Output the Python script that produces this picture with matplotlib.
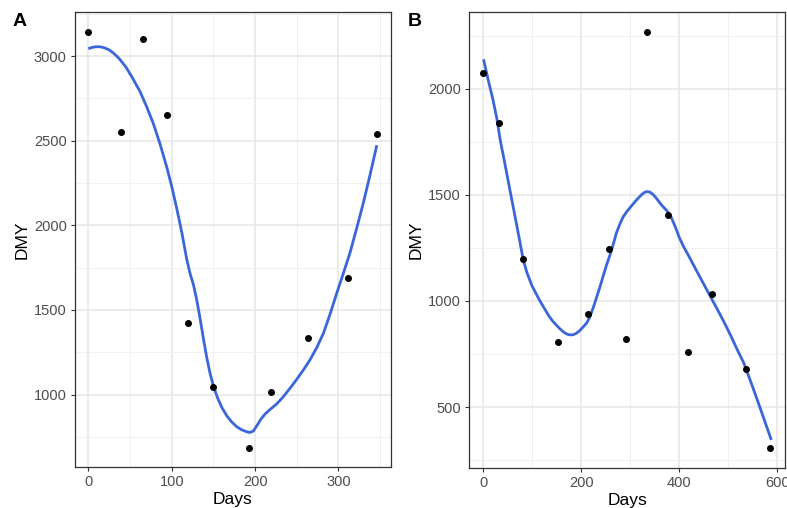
import matplotlib
matplotlib.use("Agg")
import matplotlib.pyplot as plt
from matplotlib.ticker import MultipleLocator

plt.rcParams['font.family'] = ['Liberation Sans', 'DejaVu Sans']

# Panel A data
a_days = [0, 39, 66, 94, 120, 150, 193, 219, 264, 311, 346]
a_dmy = [3142, 2550, 3100, 2649, 1423, 1047, 686, 1018, 1333, 1689, 2540]
# Panel A smoother
a_fit_days = [0, 4, 8, 12, 16, 20, 25, 30, 37, 45, 53, 62, 70, 78, 86, 94, 100, 106, 112, 118,
              122, 126, 130, 134, 138, 142, 146, 150, 155, 160, 166, 172, 178, 184, 190, 194,
              198, 202, 207, 212, 218, 226, 234, 242, 250, 258, 266, 274, 282, 290, 298,
              306, 314, 322, 330, 338, 346]
a_fit_dmy = [3043, 3050, 3054, 3055, 3053, 3047, 3036, 3018, 2985, 2935, 2870, 2790, 2700, 2600,
             2480, 2345, 2230, 2100, 1960, 1800, 1715, 1650, 1560, 1450, 1330, 1220, 1125, 1050,
             980, 925, 875, 838, 810, 792, 780, 776, 785, 815, 855, 885, 912, 945, 988, 1038,
             1090, 1146, 1206, 1278, 1362, 1476, 1600, 1718, 1840, 1985, 2135, 2300, 2473]

# Panel B data
b_days = [0, 33, 81, 152, 215, 257, 291, 334, 378, 418, 467, 537, 586]
b_dmy = [2075, 1840, 1198, 805, 937, 1246, 821, 2267, 1403, 758, 1034, 678, 309]
# Panel B smoother
b_fit_days = [1, 10, 20, 28, 35, 45, 55, 65, 75, 82, 90, 100, 108, 116, 125, 134, 142, 150, 158,
              165, 171, 177, 184, 190, 197, 204, 211, 218, 225, 232, 239, 246, 252, 259, 266,
              272, 279, 286, 293, 300, 308, 316, 324, 330, 334, 340, 346, 352, 358, 364, 370,
              375, 383, 392, 400, 409, 420, 436, 450, 464, 478, 491, 505, 518, 532, 546, 560,
              574, 588]
b_fit_dmy = [2138, 2045, 1950, 1860, 1758, 1640, 1520, 1400, 1280, 1193, 1130, 1070, 1035, 1000,
             965, 930, 905, 885, 866, 852, 844, 840, 841, 847, 860, 877, 895, 925, 970, 1020,
             1070, 1125, 1170, 1217, 1270, 1320, 1362, 1397, 1420, 1440, 1462, 1483, 1502, 1512,
             1515, 1513, 1503, 1488, 1470, 1452, 1437, 1425, 1398, 1350, 1300, 1256, 1210, 1140,
             1080, 1020, 960, 903, 838, 773, 707, 620, 530, 438, 345]

a_xticks = [0, 100, 200, 300]
a_yticks = [1000, 1500, 2000, 2500, 3000]
b_xticks = [0, 200, 400, 600]
b_yticks = [500, 1000, 1500, 2000]

fig = plt.figure(figsize=(7.87, 5.08), dpi=100)
axA = fig.add_axes([0.0953, 0.0807, 0.4015, 0.8957])
axB = fig.add_axes([0.596, 0.0787, 0.4015, 0.8977])

def style(ax, xt, yt, xminor, yminor, xlim, ylim):
    ax.set_xlim(*xlim)
    ax.set_ylim(*ylim)
    ax.set_xticks(xt)
    ax.set_yticks(yt)
    ax.xaxis.set_minor_locator(MultipleLocator(xminor))
    ax.yaxis.set_minor_locator(MultipleLocator(yminor))
    ax.grid(True, which='major', color='#E6E6E6', linewidth=1.1, zorder=0)
    ax.grid(True, which='minor', color='#F0F0F0', linewidth=0.7, zorder=0)
    ax.set_axisbelow(True)
    ax.tick_params(which='minor', length=0)
    ax.tick_params(which='major', length=3, color='#333333', width=0.8,
                   labelsize=10.5, labelcolor='#4D4D4D', pad=3)
    for s in ax.spines.values():
        s.set_color('#333333')
        s.set_linewidth(0.9)
    ax.set_xlabel('Days', fontsize=12.5, color='black', labelpad=2)
    ax.set_ylabel('DMY', fontsize=12.5, color='black', labelpad=3)

style(axA, a_xticks, a_yticks, 50, 250, (-16, 363), (572, 3260))
axA.plot(a_fit_days, a_fit_dmy, color='#3A66DA', linewidth=2, zorder=2, solid_capstyle='butt')
axA.scatter(a_days, a_dmy, s=16, color='black', zorder=3)

style(axB, b_xticks, b_yticks, 100, 250, (-28.6, 616), (213, 2361))
axB.plot(b_fit_days, b_fit_dmy, color='#3A66DA', linewidth=2, zorder=2, solid_capstyle='butt')
axB.scatter(b_days, b_dmy, s=16, color='black', zorder=3)

fig.text(0.016, 0.958, 'A', fontsize=14, fontweight='bold', va='center', ha='left')
fig.text(0.518, 0.958, 'B', fontsize=14, fontweight='bold', va='center', ha='left')

fig.savefig('out.png', dpi=100)
